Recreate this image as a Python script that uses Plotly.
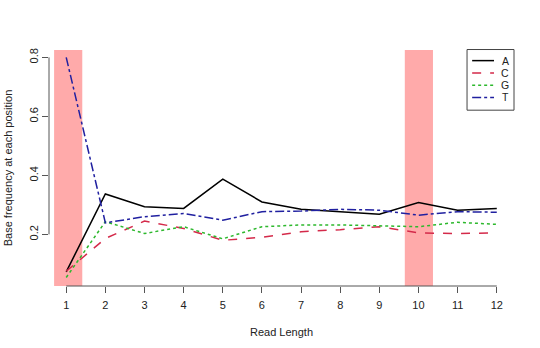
import plotly.graph_objects as go

positions = [1, 2, 3, 4, 5, 6, 7, 8, 9, 10, 11, 12]
base_A = [0.073, 0.337, 0.294, 0.288, 0.387, 0.310, 0.285, 0.277, 0.268, 0.308, 0.282, 0.288]
base_C = [0.075, 0.186, 0.245, 0.220, 0.180, 0.190, 0.209, 0.216, 0.226, 0.205, 0.203, 0.205]
base_G = [0.054, 0.243, 0.203, 0.226, 0.185, 0.226, 0.232, 0.232, 0.229, 0.226, 0.241, 0.234]
base_T = [0.800, 0.239, 0.260, 0.271, 0.248, 0.277, 0.279, 0.285, 0.282, 0.265, 0.277, 0.275]
series_names = ["A", "C", "G", "T"]
series_colors = ["#000000", "#D42A4A", "#2DB82D", "#2020A0"]
series_dash = ["solid", "dash", "dot", "dashdot"]
highlight_ranges = [(0.69, 1.41), (9.65, 10.37)]
y_ticks = [0.2, 0.4, 0.6, 0.8]

fig = go.Figure()
for name, vals, col, dash in zip(series_names, [base_A, base_C, base_G, base_T], series_colors, series_dash):
    fig.add_trace(go.Scatter(x=positions, y=vals, mode="lines", name=name, showlegend=False,
                             line=dict(color=col, width=1.5, dash=dash)))

shapes = []
for x0, x1 in highlight_ranges:
    shapes.append(dict(type="rect", xref="x", yref="paper", x0=x0, x1=x1, y0=0, y1=1,
                       fillcolor="rgba(255,100,100,0.55)", line=dict(width=0), layer="below"))
# R-style axis lines spanning only the tick range
shapes.append(dict(type="line", xref="x", yref="paper", x0=positions[0], x1=positions[-1], y0=0, y1=0,
                   line=dict(color="#555", width=1)))
shapes.append(dict(type="line", xref="paper", yref="y", x0=0, x1=0, y0=y_ticks[0], y1=y_ticks[-1],
                   line=dict(color="#555", width=1)))

# R-style legend box (top right)
shapes.append(dict(type="rect", xref="paper", yref="paper", x0=0.899, x1=1.0, y0=0.745, y1=1.002,
                   fillcolor="white", line=dict(color="#444", width=1), layer="above"))
annotations = []
row_y = [0.955, 0.903, 0.851, 0.799]
for name, col, dash, ry in zip(series_names, series_colors, series_dash, row_y):
    shapes.append(dict(type="line", xref="paper", yref="paper", x0=0.910, x1=0.957, y0=ry, y1=ry,
                       line=dict(color=col, width=1.5, dash=dash), layer="above"))
    annotations.append(dict(xref="paper", yref="paper", x=0.981, y=ry, text=name, showarrow=False,
                            xanchor="center", yanchor="middle", font=dict(size=10.5, color="#222")))

fig.update_layout(
    width=540, height=348,
    margin=dict(l=49, r=26, t=50, b=62),
    paper_bgcolor="white", plot_bgcolor="white",
    font=dict(family="Liberation Sans, Arial, sans-serif", size=11, color="#222"),
    shapes=shapes,
    annotations=annotations,
    showlegend=False,
    xaxis=dict(range=[0.56, 12.44], tickvals=positions, ticks="outside", ticklen=6,
               tickcolor="#555", showgrid=False, zeroline=False, showline=False,
               ticklabelstandoff=3, automargin=False,
               title=dict(text="Read Length", standoff=18, font=dict(size=11)),
               tickfont=dict(size=11)),
    yaxis=dict(range=[0.025, 0.825], tickvals=y_ticks, ticktext=[str(v) for v in y_ticks],
               ticks="outside", ticklen=6, tickcolor="#555", tickangle=-90,
               showgrid=False, zeroline=False, showline=False, automargin=False,
               title=dict(text="Base frequency at each position", standoff=12, font=dict(size=11)),
               tickfont=dict(size=11)),
)

fig.write_html("out.html")
